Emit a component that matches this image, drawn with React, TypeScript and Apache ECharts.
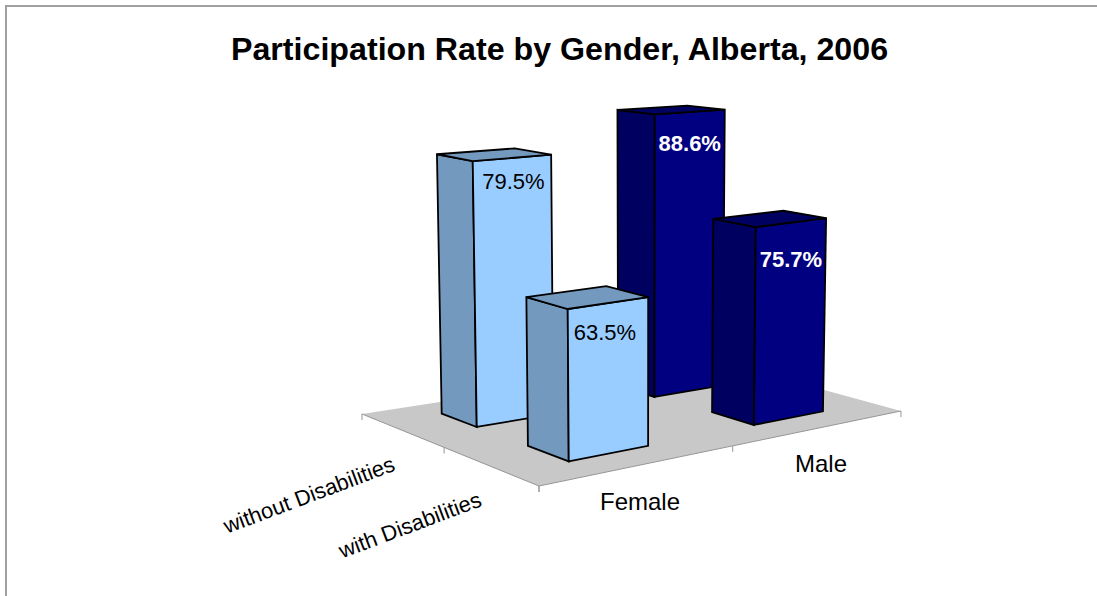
import React, { useEffect, useRef } from "react";
import * as echarts from "echarts";

const TITLE = "Participation Rate by Gender, Alberta, 2006";
const categories = ["Female", "Male"];
const depths = ["with Disabilities", "without Disabilities"];
const withDisabilities = [63.5, 75.7];
const withoutDisabilities = [79.5, 88.6];

const AXIS_MIN = 45;
const AXIS_MAX = 95;

// floor homography, from unit floor (s, t) to the screen
const H = { a: 584.5, b: -120.7, c: 539, d: 26.5, e: -7.6, f: 486, g: 0.247, h: 0.1556 };
const project = (s: number, t: number) => {
  const w = 1 + H.g * s + H.h * t;
  return [(H.a * s + H.b * t + H.c) / w, (H.d * s + H.e * t + H.f) / w];
};
const S_RANGE = [
  [[0.14, 0.338], [0.138, 0.332]],
  [[0.632, 0.846], [0.615, 0.826]],
]; // [category][depth]
const T_RANGE = [[0.155, 0.368], [0.65, 0.86]];
const HEIGHT_SCALE = [[1.03, 0.963], [0.806, 0.81]]; // [category][depth]
const LABEL_DROP = [[23, 20], [32.5, 29.5]];
const LABEL_SHIFT = [[-3, 1.5], [0, 0]];
const CORNER_FALLOFF = 0.024;
const FRONT = ["#99CCFF", "#000080"];
const SIDE = ["#7399BF", "#000060"];
const LABEL_COLOR = ["#000000", "#FFFFFF"];
const LABEL_WEIGHT = ["normal", "bold"];
const FONT = '"Liberation Sans", Arial, sans-serif';

const lean = (x: number, h: number) => x + ((x - 643) * h) / 11000;

const renderBar = (_p: any, api: any) => {
  const cat = api.value(0);
  const dep = api.value(1);
  const v = api.value(2);
  const px = api.coord([cat, AXIS_MIN])[1] - api.coord([cat, v])[1];
  const barH = px * HEIGHT_SCALE[cat][dep];
  const corner = (i: number, j: number) => {
    const [bx, by] = project(S_RANGE[cat][dep][i], T_RANGE[dep][j]);
    const h = barH * (1 - CORNER_FALLOFF * i) * (1 - CORNER_FALLOFF * j);
    return { base: [bx, by], top: [lean(bx, h), by - h] };
  };
  const fr = corner(0, 0);
  const ri = corner(1, 0);
  const le = corner(0, 1);
  const ba = corner(1, 1);
  const edge = { stroke: "#000", lineWidth: 1.8, lineJoin: "miter" };
  const poly = (points: number[][], fill: string) => ({
    type: "polygon",
    shape: { points },
    style: { fill, ...edge },
  });
  return {
    type: "group",
    children: [
      poly([le.base, fr.base, fr.top, le.top], SIDE[cat]),
      poly([fr.base, ri.base, ri.top, fr.top], FRONT[cat]),
      poly([le.top, fr.top, ri.top, ba.top], SIDE[cat]),
      {
        type: "text",
        x: (fr.top[0] + ri.top[0]) / 2 + LABEL_SHIFT[cat][dep],
        y: fr.top[1] + LABEL_DROP[cat][dep],
        style: {
          text: v.toFixed(1) + "%",
          align: "center",
          verticalAlign: "middle",
          fill: LABEL_COLOR[cat],
          font: `${LABEL_WEIGHT[cat]} 22px ${FONT}`,
        },
      },
    ],
  };
};

const CAT_LABEL_POS = [[640, 501], [821, 463]];
const DEPTH_LABEL_POS = [[410, 525], [309, 495]];
const TICK_S = [0, 0.48, 1];
const TICK_T = [0, 0.5, 1];
const TICK_LEN = 6;

const renderFloor = () => {
  const p00 = project(0, 0);
  const p10 = project(1, 0);
  const p11 = project(1, 1);
  const p01 = project(0, 1);
  const grey = { stroke: "#969696", lineWidth: 1 };
  const line = (a: number[], b: number[]) => ({
    type: "line",
    shape: { x1: a[0], y1: a[1], x2: b[0], y2: b[1] },
    style: grey,
  });
  const tick = (p: number[]) => line(p, [p[0], p[1] + TICK_LEN]);
  const label = (text: string, pos: number[], rotation: number, size: number) => ({
    type: "text",
    x: pos[0],
    y: pos[1],
    rotation,
    style: {
      text,
      align: "center",
      verticalAlign: "middle",
      fill: "#000",
      font: `${size}px ${FONT}`,
    },
  });
  return {
    type: "group",
    children: [
      { type: "polygon", shape: { points: [p00, p10, p11, p01] }, style: { fill: "#C8C8C8" } },
      line(p00, p10),
      line(p00, p01),
      ...TICK_S.map((s) => tick(project(s, 0))),
      ...TICK_T.map((t) => tick(project(0, t))),
      ...categories.map((c, i) => label(c, CAT_LABEL_POS[i], 0, 24)),
      ...depths.map((d, i) => label(d, DEPTH_LABEL_POS[i], 0.36, 22)),
    ],
  };
};

export default function App() {
  const ref = useRef<HTMLDivElement>(null);
  useEffect(() => {
    const chart = echarts.init(ref.current!, undefined, { renderer: "svg" });
    const barData: number[][] = [];
    withoutDisabilities.forEach((v, i) => barData.push([i, 1, v]));
    withDisabilities.forEach((v, i) => barData.push([i, 0, v]));
    chart.setOption({
      animation: false,
      backgroundColor: "#ffffff",
      title: {
        text: TITLE,
        left: 554.5,
        top: 28,
        textAlign: "center",
        textStyle: { fontFamily: FONT, fontWeight: "bold", fontSize: 32.2, color: "#000" },
      },
      grid: { left: 0, top: 0, width: 400, height: 400 },
      xAxis: { type: "category", data: categories, show: false },
      yAxis: { type: "value", min: AXIS_MIN, max: AXIS_MAX, show: false },
      graphic: [
        {
          type: "polyline",
          shape: { points: [[6, 596], [6, 6], [1097, 6]] },
          style: { fill: "none", stroke: "#A0A0A0", lineWidth: 2 },
        },
      ],
      series: [
        {
          type: "custom",
          coordinateSystem: "none",
          data: [[0]],
          renderItem: renderFloor,
          silent: true,
          z: 1,
        },
        {
          type: "custom",
          coordinateSystem: "cartesian2d",
          encode: { x: 0, y: 2 },
          data: barData,
          renderItem: renderBar,
          silent: true,
          z: 2,
        },
      ],
    });
    return () => chart.dispose();
  }, []);
  return <div ref={ref} style={{ position: "absolute", left: 0, top: 0, width: 1097, height: 596 }} />;
}
